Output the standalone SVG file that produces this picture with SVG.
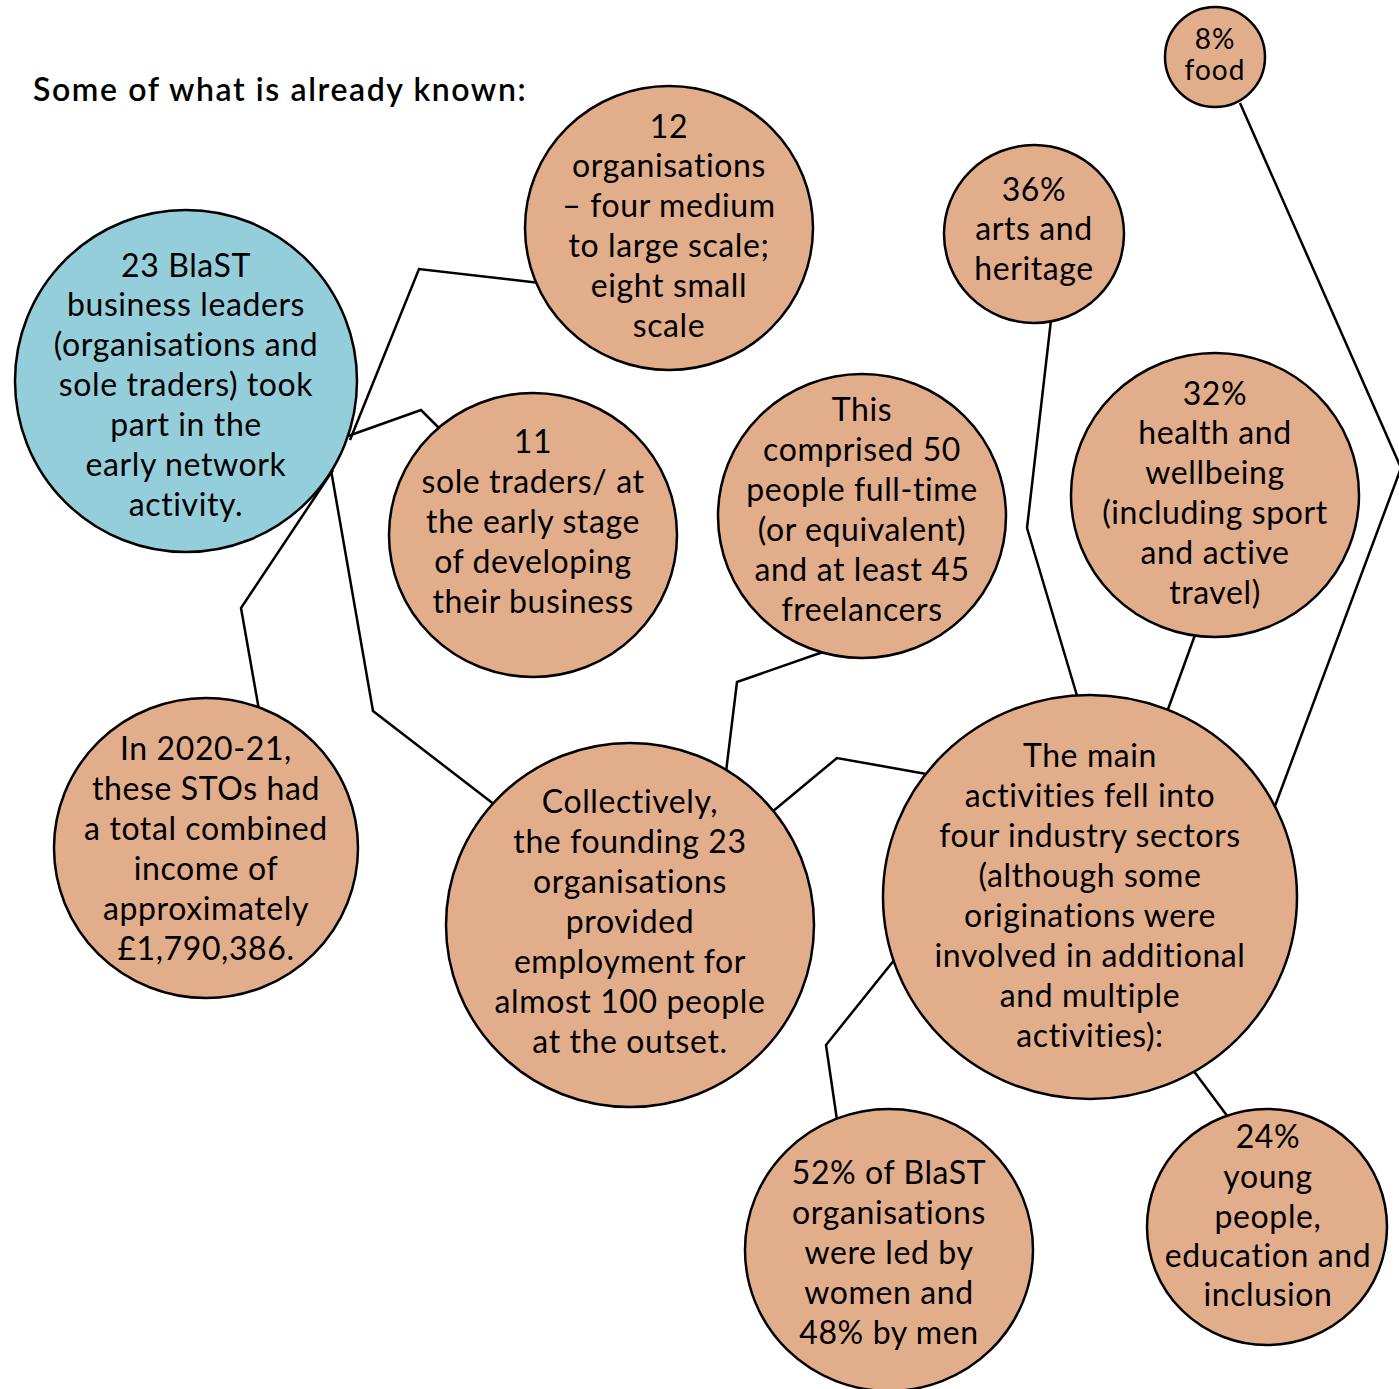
<svg xmlns="http://www.w3.org/2000/svg" width="1399" height="1389" viewBox="0 0 1399 1389">
<style>
.n{fill:#E1AD8B;stroke:#000;stroke-width:2.5}
.b{fill:#94CEDA;stroke:#000;stroke-width:2.5}
.c{fill:none;stroke:#000;stroke-width:2.5;stroke-linejoin:miter}
text{font-family:Lato,"Open Sans",sans-serif;font-size:32px;letter-spacing:0.6px;fill:#000;text-anchor:middle}
.t{font-weight:600;text-anchor:start;font-size:32px;letter-spacing:1.6px}
.s{font-size:28px;letter-spacing:1px}
</style>
<rect width="1399" height="1389" fill="#fff"/>
<text class="t" x="33" y="101">Some of what is already known:</text>
<g id="connectors">
<polyline class="c" points="350,440 419,269 540,283"/>
<polyline class="c" points="348,436 421,410 440,429"/>
<polyline class="c" points="333,470 241,608 259,710"/>
<polyline class="c" points="331,470 373,711 495,805"/>
<polyline class="c" points="823,652 737,682 726,772"/>
<polyline class="c" points="772,812 837,758 932,775"/>
<polyline class="c" points="1051,320 1027,528 1078,699"/>
<polyline class="c" points="1195,635 1167,712"/>
<polyline class="c" points="1240,103 1401,468 1275,806"/>
<polyline class="c" points="895,959 826,1045 837,1120"/>
<polyline class="c" points="1193,1070 1228,1117"/>
</g>
<g id="n-blast">
<ellipse class="b" cx="186" cy="381" rx="171" ry="171"/>
<text x="186" y="277">23 BlaST</text>
<text x="186" y="316">business leaders</text>
<text x="186" y="356">(organisations and</text>
<text x="186" y="396">sole traders) took</text>
<text x="186" y="436">part in the</text>
<text x="186" y="476">early network</text>
<text x="186" y="516">activity.</text>
</g>
<g id="n-12">
<ellipse class="n" cx="669" cy="228" rx="144" ry="142"/>
<text x="669" y="138">12</text>
<text x="669" y="177">organisations</text>
<text x="669" y="217">– four medium</text>
<text x="669" y="257">to large scale;</text>
<text x="669" y="297">eight small</text>
<text x="669" y="337">scale</text>
</g>
<g id="n-food">
<ellipse class="n" cx="1215" cy="57" rx="50" ry="50"/>
<text class="s" x="1215" y="49">8%</text>
<text class="s" x="1215" y="80">food</text>
</g>
<g id="n-arts">
<ellipse class="n" cx="1034" cy="234" rx="90" ry="89"/>
<text x="1034" y="201">36%</text>
<text x="1034" y="240">arts and</text>
<text x="1034" y="280">heritage</text>
</g>
<g id="n-11">
<ellipse class="n" cx="533" cy="535" rx="144" ry="142"/>
<text x="533" y="453">11</text>
<text x="533" y="493">sole traders/ at</text>
<text x="533" y="533">the early stage</text>
<text x="533" y="573">of developing</text>
<text x="533" y="613">their business</text>
</g>
<g id="n-comprised">
<ellipse class="n" cx="862" cy="516" rx="144" ry="142"/>
<text x="862" y="421">This</text>
<text x="862" y="461">comprised 50</text>
<text x="862" y="501">people full-time</text>
<text x="862" y="541">(or equivalent)</text>
<text x="862" y="581">and at least 45</text>
<text x="862" y="621">freelancers</text>
</g>
<g id="n-health">
<ellipse class="n" cx="1215" cy="495" rx="144" ry="142"/>
<text x="1215" y="405">32%</text>
<text x="1215" y="444">health and</text>
<text x="1215" y="484">wellbeing</text>
<text x="1215" y="524">(including sport</text>
<text x="1215" y="564">and active</text>
<text x="1215" y="604">travel)</text>
</g>
<g id="n-income">
<ellipse class="n" cx="206" cy="848" rx="152" ry="150"/>
<text x="206" y="760">In 2020-21,</text>
<text x="206" y="800">these STOs had</text>
<text x="206" y="840">a total combined</text>
<text x="206" y="880">income of</text>
<text x="206" y="920">approximately</text>
<text x="206" y="960">£1,790,386.</text>
</g>
<g id="n-collectively">
<ellipse class="n" cx="630" cy="925" rx="184" ry="182"/>
<text x="630" y="813">Collectively,</text>
<text x="630" y="853">the founding 23</text>
<text x="630" y="893">organisations</text>
<text x="630" y="933">provided</text>
<text x="630" y="973">employment for</text>
<text x="630" y="1013">almost 100 people</text>
<text x="630" y="1053">at the outset.</text>
</g>
<g id="n-main">
<ellipse class="n" cx="1090" cy="897" rx="207" ry="202"/>
<text x="1090" y="767">The main</text>
<text x="1090" y="807">activities fell into</text>
<text x="1090" y="847">four industry sectors</text>
<text x="1090" y="887">(although some</text>
<text x="1090" y="927">originations were</text>
<text x="1090" y="967">involved in additional</text>
<text x="1090" y="1007">and multiple</text>
<text x="1090" y="1047">activities):</text>
</g>
<g id="n-women">
<ellipse class="n" cx="889" cy="1250" rx="144" ry="141"/>
<text x="889" y="1184">52% of BlaST</text>
<text x="889" y="1224">organisations</text>
<text x="889" y="1264">were led by</text>
<text x="889" y="1304">women and</text>
<text x="889" y="1344">48% by men</text>
</g>
<g id="n-young">
<ellipse class="n" cx="1267" cy="1227" rx="120" ry="118"/>
<text x="1268" y="1148">24%</text>
<text x="1268" y="1188">young</text>
<text x="1268" y="1228">people,</text>
<text x="1268" y="1267">education and</text>
<text x="1268" y="1306">inclusion</text>
</g>
</svg>
